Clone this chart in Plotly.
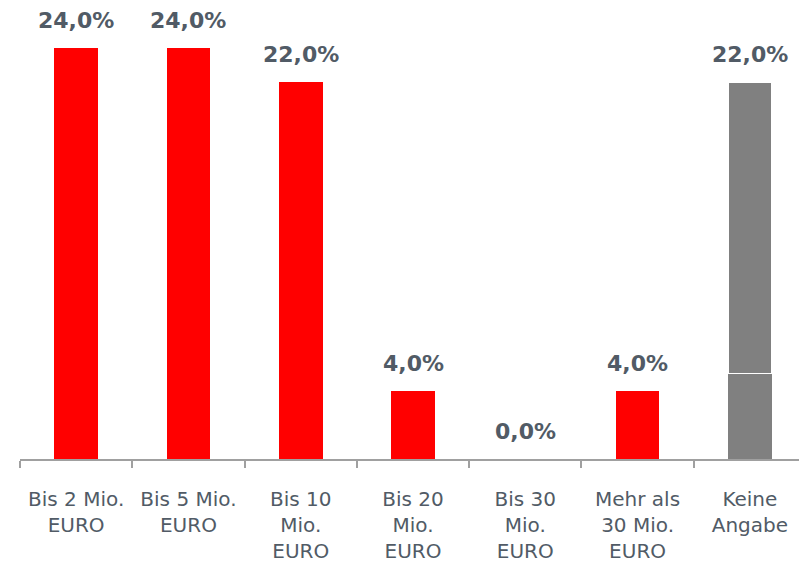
import plotly.graph_objects as go

# ---------------------------------------------------------------------------
# Data
# ---------------------------------------------------------------------------
CATEGORIES = [
    "Bis 2 Mio.<br>EURO",
    "Bis 5 Mio.<br>EURO",
    "Bis 10<br>Mio.<br>EURO",
    "Bis 20<br>Mio.<br>EURO",
    "Bis 30<br>Mio.<br>EURO",
    "Mehr als<br>30 Mio.<br>EURO",
    "Keine<br>Angabe",
]
VALUES = [24.0, 24.0, 22.0, 4.0, 0.0, 4.0, 22.0]
KEINE_SPLIT = 5.0   # gray bar shows a thin white divider at this level

COLOUR_RED = "#FF0000"
COLOUR_GREY = "#808080"
COLOUR_TEXT = "#515B66"

bar_colours = [COLOUR_RED] * 6 + [COLOUR_GREY]
lower = VALUES[:-1] + [KEINE_SPLIT]
upper = [None] * 6 + [VALUES[-1] - KEINE_SPLIT]
labels = [f"{v:.1f}%".replace(".", ",") for v in VALUES]

fig = go.Figure()
fig.add_trace(go.Bar(
    x=CATEGORIES, y=lower,
    marker=dict(color=bar_colours, line=dict(width=0)),
    hoverinfo="skip",
))
fig.add_trace(go.Bar(
    x=CATEGORIES, y=upper,
    marker=dict(color=COLOUR_GREY, line=dict(color="white", width=1.5)),
    hoverinfo="skip",
))

for cat, val, lab in zip(CATEGORIES, VALUES, labels):
    fig.add_annotation(
        x=cat, y=val, text=lab, showarrow=False,
        yanchor="bottom", yshift=14, borderpad=0,
        font=dict(family="DejaVu Sans", size=22, color=COLOUR_TEXT, weight="bold"),
    )

# page body has an 8px margin, so the figure is sized/offset to compensate
fig.update_layout(
    barmode="stack",
    bargap=0.61,
    showlegend=False,
    paper_bgcolor="white",
    plot_bgcolor="white",
    width=799, height=556,
    margin=dict(l=12, r=1, t=10, b=95),
    font=dict(family="DejaVu Sans", size=20, color=COLOUR_TEXT),
)
fig.update_xaxes(
    showline=True, linecolor="#A0A0A0", linewidth=1.5,
    ticks="outside", tickson="boundaries", ticklen=7, tickcolor="#A0A0A0", tickwidth=1.5,
    ticklabelstandoff=21,
    showgrid=False, zeroline=False,
    tickfont=dict(family="DejaVu Sans", size=20, color=COLOUR_TEXT),
)
fig.update_yaxes(visible=False, range=[0, 25.75])

fig.write_html("out.html")
